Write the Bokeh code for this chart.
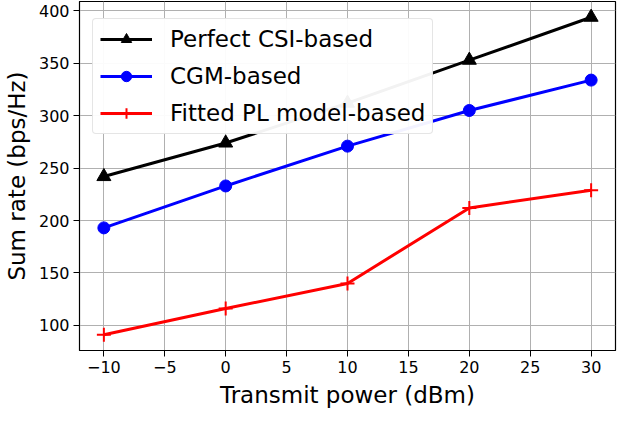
from bokeh.plotting import figure
from bokeh.models import Legend, LegendItem, Range1d, FixedTicker
from bokeh.embed import file_html
from bokeh.resources import INLINE

power = [-10, 0, 10, 20, 30]
perfect_csi = [242, 274, 312, 353, 394]
cgm = [193, 233, 271, 305, 334]
fitted_pl = [91, 116, 140, 212, 229]

x_ticks = [-10, -5, 0, 5, 10, 15, 20, 25, 30]
y_ticks = [100, 150, 200, 250, 300, 350, 400]

FONT = "DejaVu Sans"

p = figure(width=617, height=410, output_backend="svg", toolbar_location=None,
           x_range=Range1d(-12, 32), y_range=Range1d(76, 409),
           min_border_left=74, min_border_right=2, min_border_top=1, min_border_bottom=58)

p.outline_line_color = "black"
p.outline_line_width = 1.2
p.background_fill_color = "white"
p.border_fill_color = "white"

for ax in (p.xaxis[0], p.yaxis[0]):
    ax.major_label_text_font = FONT
    ax.major_label_text_font_size = "16px"
    ax.major_label_text_color = "black"
    ax.axis_label_text_font = FONT
    ax.axis_label_text_font_size = "23px"
    ax.axis_label_text_font_style = "normal"
    ax.axis_label_text_color = "black"
    ax.minor_tick_line_color = None
    ax.major_tick_in = 0
    ax.major_tick_out = 6
    ax.major_tick_line_color = "black"
    ax.axis_line_color = "black"
    ax.major_label_standoff = 4
    ax.axis_label_standoff = 6

p.xaxis[0].ticker = FixedTicker(ticks=x_ticks)
p.yaxis[0].ticker = FixedTicker(ticks=y_ticks)
p.xaxis[0].major_label_overrides = {t: (str(t).replace("-", "\u2212")) for t in x_ticks}
p.xaxis.axis_label = "Transmit power (dBm)"
p.yaxis.axis_label = "Sum rate (bps/Hz)"

p.xgrid.grid_line_color = "#b0b0b0"
p.ygrid.grid_line_color = "#b0b0b0"
p.xgrid.grid_line_width = 1
p.ygrid.grid_line_width = 1

l1 = p.line(power, perfect_csi, line_color="black", line_width=3)
m1 = p.scatter(power, perfect_csi, marker="triangle", size=14, fill_color="black", line_color="black")
l2 = p.line(power, cgm, line_color="blue", line_width=3)
m2 = p.scatter(power, cgm, marker="circle", size=12, fill_color="blue", line_color="blue")
l3 = p.line(power, fitted_pl, line_color="red", line_width=3)
m3 = p.scatter(power, fitted_pl, marker="cross", size=14, line_color="red", line_width=2)

legend = Legend(items=[
    LegendItem(label="Perfect CSI-based", renderers=[l1, m1]),
    LegendItem(label="CGM-based", renderers=[l2, m2]),
    LegendItem(label="Fitted PL model-based", renderers=[l3, m3]),
], location=(13, 216))
legend.label_text_font = FONT
legend.label_text_font_size = "23px"
legend.label_text_color = "black"
legend.glyph_width = 52
legend.glyph_height = 26
legend.label_standoff = 18
legend.spacing = 11
legend.padding = 7
legend.margin = 0
legend.border_line_color = "#cccccc"
legend.border_line_width = 1
legend.border_radius = 4
legend.background_fill_alpha = 0.95
p.add_layout(legend)

open("out.html", "w").write(file_html(p, INLINE))
